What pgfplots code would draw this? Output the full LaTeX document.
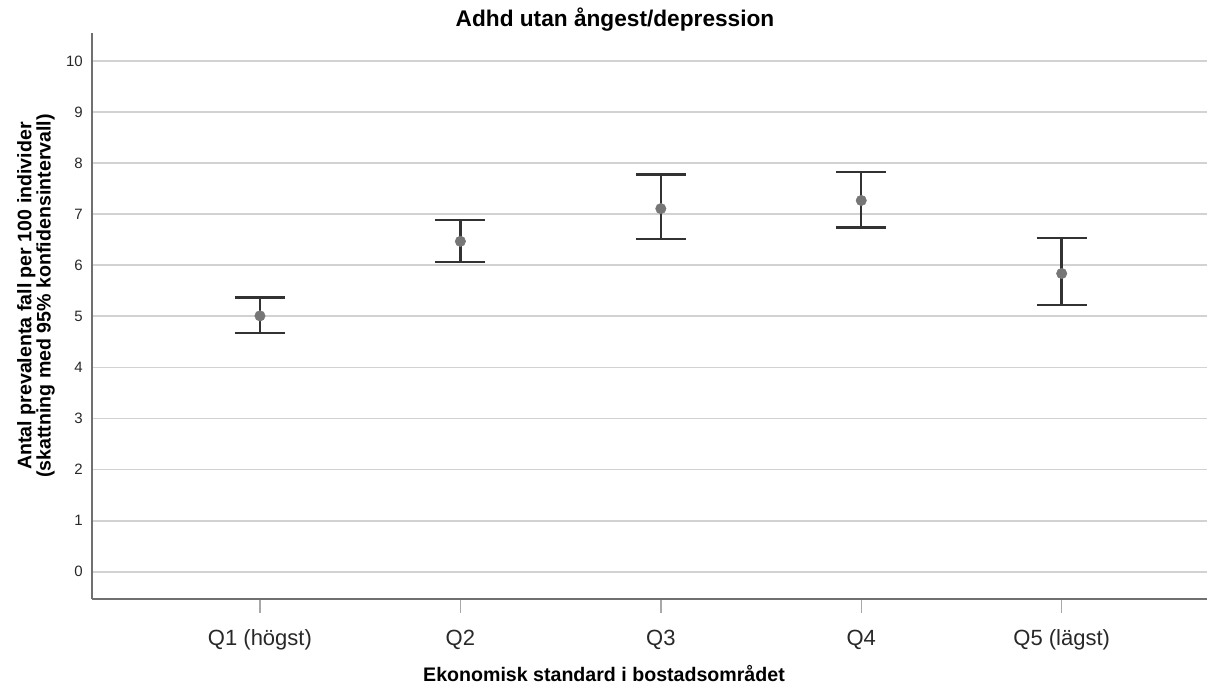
\documentclass[border=0pt]{standalone}
\usepackage{fontspec}
\setmainfont{Liberation Sans}
\usepackage{pgfplots}
\pgfplotsset{compat=1.18}
\usepackage{pgfplotstable}
\definecolor{gridgray}{RGB}{210,210,210}
\definecolor{axgray}{RGB}{112,112,112}
\definecolor{tickgray}{RGB}{168,168,168}
\definecolor{errc}{RGB}{50,50,50}
\definecolor{dotc}{RGB}{118,118,118}
\definecolor{txt}{RGB}{40,40,40}
\pgfplotstableread{
x mean upper lower
1 5.01 5.37 4.68
2 6.47 6.89 6.06
3 7.11 7.78 6.51
4 7.27 7.83 6.74
5 5.84 6.54 5.22
}\datatable
\begin{document}
\begin{tikzpicture}[x=0.75pt,y=0.75pt]
\useasboundingbox (-92,-99) rectangle (1115,599);
\begin{axis}[
  at={(0,0)}, anchor=south west,
  scale only axis, width=836.25pt, height=424.5pt,
  xmin=0.162, xmax=5.725, ymin=-0.535, ymax=10.55,
  axis x line*=bottom, axis y line*=left,
  axis line style={color=axgray, line width=1.1pt, -},
  xtick={1,2,3,4,5},
  xticklabels={Q1 (högst),Q2,Q3,Q4,Q5 (lägst)},
  ytick={0,1,...,10},
  ymajorgrids, grid style={color=gridgray, line width=1.4pt},
  x tick style={color=tickgray, line width=1.1pt},
  xtick align=outside, major tick length=10.5pt,
  y tick style={draw=none},
  ytick align=inside,
  /pgf/number format/assume math mode=true,
  xticklabel style={anchor=base, inner sep=0pt, yshift=-24.75pt, font=\fontsize{16.5}{19}\selectfont, text=txt},
  yticklabel style={anchor=east, inner sep=0pt, xshift=-6.75pt, font=\fontsize{11.25}{13}\selectfont, text=txt},
  clip=false,
]
\addplot[draw=none, mark=none, forget plot,
  error bars/.cd, y dir=both, y explicit,
  error bar style={line width=1.8pt, color=errc},
  error mark options={line width=1.8pt, color=errc, mark size=18.75pt, rotate=90}]
  table[x=x, y=mean, y error plus expr=\thisrow{upper}-\thisrow{mean}, y error minus expr=\thisrow{mean}-\thisrow{lower}] {\datatable};
\addplot[only marks, mark=*, mark size=3.9pt, mark options={fill=dotc, draw=dotc}]
  table[x=x, y=mean] {\datatable};
\end{axis}
\node[anchor=base, font=\bfseries\fontsize{17}{20}\selectfont] at (523,572) {Adhd utan ångest/depression};
\node[anchor=base, font=\bfseries\fontsize{14.7}{17}\selectfont] at (512,-83) {Ekonomisk standard i bostadsområdet};
\node[rotate=90, align=center, inner sep=0pt, font=\bfseries\fontsize{14.7}{14.3}\selectfont] at (-56,303) {Antal prevalenta fall per 100 individer\\(skattning med 95\% konfidensintervall)};
\end{tikzpicture}
\end{document}
